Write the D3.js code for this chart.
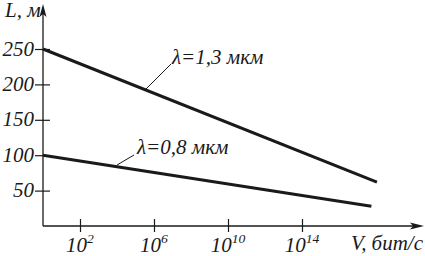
<!DOCTYPE html>
<html><head><meta charset="utf-8">
<script src="https://cdn.jsdelivr.net/npm/d3@7"></script>
<style>
html,body{margin:0;padding:0;background:#fff;}
svg{display:block;}
</style></head><body>
<svg id="c" width="425" height="256"></svg>
<script>
// Data (log10 of bit rate V, distance L in m)
const seriesNames = ["λ=1,3 мкм", "λ=0,8 мкм"];
const seriesExp = [[0, 18.05], [0, 17.75]];
const seriesL = [[250, 62], [100, 28]];
const yTicks = [50, 100, 150, 200, 250];
const xTickExp = [2, 6, 10, 14];
const xLabel = "V, бит/с";
const yLabel = "L, м";

const FONT = "'Times New Roman', 'Liberation Serif', Times, serif";
const SX = 1.05; // horizontal stretch of the reference lettering
const FS = 20;
const svg = d3.select("#c");
const x = d3.scaleLinear().domain([0, 14]).range([43, 302]);
const y = d3.scaleLinear().domain([0, 250]).range([226, 49]);
const ink = "#1a1a1a";

function label(px, py, anchor, size) {
  const g = svg.append("g").attr("transform", `translate(${px},${py}) scale(${SX},1)`);
  return g.append("text").attr("text-anchor", anchor)
    .style("font-family", FONT).style("font-style", "italic")
    .style("font-size", size + "px").attr("fill", ink);
}

// axes
svg.append("line").attr("x1", 43).attr("x2", 416).attr("y1", y(0)).attr("y2", y(0))
  .attr("stroke", ink).attr("stroke-width", 1.3);
svg.append("line").attr("x1", x(0)).attr("x2", x(0)).attr("y1", y(0)).attr("y2", 14)
  .attr("stroke", ink).attr("stroke-width", 1.3);
svg.append("path").attr("d", `M424,${y(0)} L410,${y(0)-3.5} L413,${y(0)} L410,${y(0)+3.5} Z`).attr("fill", ink);
svg.append("path").attr("d", `M${x(0)},4 L${x(0)-3.5},17 L${x(0)},14 L${x(0)+3.5},17 Z`).attr("fill", ink);

// y ticks
const gy = svg.append("g").attr("transform", `translate(${x(0)},0)`)
  .call(d3.axisLeft(y).tickValues(yTicks).tickSize(0).tickFormat(""));
gy.select(".domain").remove();
gy.selectAll(".tick line").attr("x1", -8).attr("x2", 7).attr("stroke", ink).attr("stroke-width", 1.2);
yTicks.forEach(v => {
  label(x(0) - 9, y(v) + 6.5, "end", FS).text(d3.format("d")(v));
});

// x ticks
const gx = svg.append("g").attr("transform", `translate(0,${y(0)})`)
  .call(d3.axisBottom(x).tickValues(xTickExp).tickSize(0).tickFormat(""));
gx.select(".domain").remove();
gx.selectAll(".tick line").attr("y1", -7).attr("y2", 6).attr("stroke", ink).attr("stroke-width", 1.2);
xTickExp.forEach(e => {
  const t = label(x(e), y(0) + 26, "middle", FS);
  t.append("tspan").text("10");
  t.append("tspan").attr("dy", -9).style("font-size", "13px").text(e);
});

// axis labels
label(423, 250, "end", FS).text(xLabel);
label(5, 17, "start", FS).text(yLabel);

// lines
const line = d3.line().x(d => x(d[0])).y(d => y(d[1]));
seriesExp.forEach((ex, i) => {
  const pts = ex.map((e, j) => [e, seriesL[i][j]]);
  svg.append("path").attr("d", line(pts)).attr("fill", "none")
    .attr("stroke", ink).attr("stroke-width", 3);
});

// annotations
const ann = [
  {tx: 172, ty: 64, lx1: 171, ly1: 64, lx2: 146, ly2: 89},
  {tx: 137, ty: 154, lx1: 134, ly1: 155, lx2: 117, ly2: 165}
];
ann.forEach((a, i) => {
  svg.append("line").attr("x1", a.lx1).attr("y1", a.ly1).attr("x2", a.lx2).attr("y2", a.ly2)
    .attr("stroke", ink).attr("stroke-width", 1);
  label(a.tx, a.ty, "start", FS).text(seriesNames[i]);
});
</script>
</body></html>
